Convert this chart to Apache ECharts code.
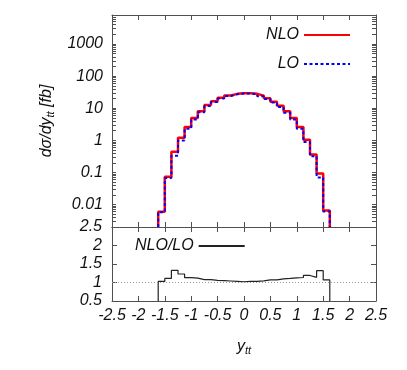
<!DOCTYPE html>
<html>
<head>
<meta charset="utf-8">
<script src="https://cdn.jsdelivr.net/npm/echarts@6/dist/echarts.min.js"></script>
<style>
html, body { margin: 0; padding: 0; background: #fff; }
#chart { width: 407px; height: 370px; }
</style>
</head>
<body>
<div id="chart"></div>
<script>
// bin edges of the y_tt histogram
var edges = [-1.625, -1.5, -1.375, -1.25, -1.125, -1, -0.875, -0.75, -0.625, -0.5, -0.375, -0.25, -0.125, 0,
             0.125, 0.25, 0.375, 0.5, 0.625, 0.75, 0.875, 1, 1.125, 1.25, 1.375, 1.5, 1.625];
// dsigma/dy [fb] per bin
var nlo = [0.006, 0.074, 0.44, 1.21, 2.6, 5.0, 8.1, 12.6, 16.5, 21, 25, 28, 29.5,
           29.5, 28, 24.6, 20.5, 16, 12, 8, 5, 2.6, 1.05, 0.36, 0.093, 0.0065];
var lo = [0.0058, 0.067, 0.33, 0.98, 2.3, 4.46, 7.5, 11.7, 15.6, 20, 24, 27.2, 28.9,
          28.6, 27.2, 23.5, 19.2, 15, 10.9, 7.2, 4.44, 2.29, 0.88, 0.32, 0.07, 0.0061];
var ratio = [1.03, 1.11, 1.33, 1.23, 1.13, 1.12, 1.08, 1.08, 1.06, 1.05, 1.04, 1.03, 1.02,
             1.03, 1.03, 1.045, 1.07, 1.07, 1.10, 1.11, 1.125, 1.135, 1.19, 1.14, 1.32, 1.07];

var logLabels = [0.01, 0.1, 1, 10, 100, 1000];
var logDecades = [0.001, 0.01, 0.1, 1, 10, 100, 1000];

var logTicks = [];
logDecades.forEach(function (d) {
    for (var k = 1; k < 10; k++) logTicks.push(+(k * d).toPrecision(2));
});

var font = 'Liberation Sans';
var frame = { show: true, onZero: false, lineStyle: { color: '#505050', width: 1 } };
var txt = { fontFamily: font, fontStyle: 'italic', fontSize: 16, color: '#111' };

function steps(vals, floor) {
    var d = [[edges[0], floor]];
    for (var i = 0; i < vals.length; i++) d.push([edges[i], vals[i]]);
    d.push([edges[vals.length], vals[vals.length - 1]]);
    d.push([edges[vals.length], floor]);
    return d;
}

function xAx(grid, pos, labels) {
    return {
        type: 'value', gridIndex: grid, position: pos, min: -2.5, max: 2.5, interval: 0.5,
        axisLine: frame, splitLine: { show: false },
        axisTick: { inside: true, length: 5, lineStyle: { color: '#505050' } },
        axisLabel: labels ? Object.assign({ margin: 7, formatter: function (v) { return String(v); } }, txt) : { show: false }
    };
}

var myChart = echarts.init(document.getElementById('chart'));
var option = {
    animation: false,
    grid: [
        { left: 112, right: 31, top: 15, height: 212 },
        { left: 112, right: 31, top: 227, height: 74 }
    ],
    legend: [
        { data: ['NLO'], right: 51, top: 22, align: 'right', itemWidth: 46, itemHeight: 14,
          selectedMode: false, itemStyle: { opacity: 0 }, textStyle: txt },
        { data: ['LO'], right: 51, top: 51, align: 'right', itemWidth: 46, itemHeight: 14,
          selectedMode: false, itemStyle: { opacity: 0 }, textStyle: txt },
        { data: ['NLO/LO'], left: 130, top: 233, align: 'right', itemWidth: 46, itemHeight: 14,
          selectedMode: false, itemStyle: { opacity: 0 }, textStyle: txt }
    ],
    xAxis: [
        xAx(0, 'bottom', false),
        xAx(0, 'top', false),
        Object.assign(xAx(1, 'bottom', true), {
            name: '{a|y}{s|tt}', nameLocation: 'middle', nameGap: 36,
            nameTextStyle: { rich: {
                a: { fontFamily: font, fontStyle: 'italic', fontSize: 16, color: '#111' },
                s: { fontFamily: font, fontStyle: 'italic', fontSize: 11, color: '#111', padding: [8, 0, 0, 0] }
            } }
        }),
        xAx(1, 'top', false)
    ],
    yAxis: [
        {
            type: 'log', gridIndex: 0, position: 'left', min: 0.002, max: 8000,
            axisLine: frame, splitLine: { show: false },
            axisTick: { inside: true, length: 4, customValues: logTicks, lineStyle: { color: '#505050' } },
            axisLabel: Object.assign({ margin: 9, customValues: logLabels,
                formatter: function (v) { return String(+v.toPrecision(3)); } }, txt),
            name: '{a|d\u03c3/dy}{s|tt}{a| [fb]}', nameLocation: 'middle', nameGap: 47, nameRotate: 90,
            nameTextStyle: { rich: {
                a: { fontFamily: font, fontStyle: 'italic', fontSize: 16, color: '#111' },
                s: { fontFamily: font, fontStyle: 'italic', fontSize: 11, color: '#111', padding: [8, 0, 0, 0] }
            } }
        },
        {
            type: 'log', gridIndex: 0, position: 'right', min: 0.002, max: 8000,
            axisLine: frame, splitLine: { show: false },
            axisTick: { inside: true, length: 4, customValues: logTicks, lineStyle: { color: '#505050' } },
            axisLabel: { show: false }
        },
        {
            type: 'value', gridIndex: 1, position: 'left', min: 0.5, max: 2.5, interval: 0.5,
            axisLine: frame, splitLine: { show: false },
            axisTick: { inside: true, length: 5, lineStyle: { color: '#505050' } },
            axisLabel: Object.assign({ margin: 10 }, txt)
        },
        {
            type: 'value', gridIndex: 1, position: 'right', min: 0.5, max: 2.5, interval: 0.5,
            axisLine: frame, splitLine: { show: false },
            axisTick: { inside: true, length: 5, lineStyle: { color: '#505050' } },
            axisLabel: { show: false }
        }
    ],
    series: [
        {
            name: 'NLO', type: 'line', step: 'end', xAxisIndex: 0, yAxisIndex: 0,
            symbol: 'none', data: steps(nlo, 0.002),
            lineStyle: { color: '#ff0000', width: 2.5 }, itemStyle: { color: '#ff0000' }
        },
        {
            name: 'LO', type: 'line', step: 'end', xAxisIndex: 0, yAxisIndex: 0,
            symbol: 'none', data: steps(lo, 0.002),
            lineStyle: { color: '#0000ff', width: 2, type: [3, 2.5] }, itemStyle: { color: '#0000ff' }
        },
        {
            name: 'NLO/LO', type: 'line', step: 'end', xAxisIndex: 2, yAxisIndex: 2,
            symbol: 'none', data: steps(ratio, 0.5),
            lineStyle: { color: '#222', width: 1.2 }, itemStyle: { color: '#222' },
            markLine: {
                silent: true, symbol: 'none', label: { show: false },
                lineStyle: { color: '#999', width: 1, type: [1, 2] },
                data: [{ yAxis: 1 }]
            }
        }
    ]
};
myChart.setOption(option);
</script>
</body>
</html>
